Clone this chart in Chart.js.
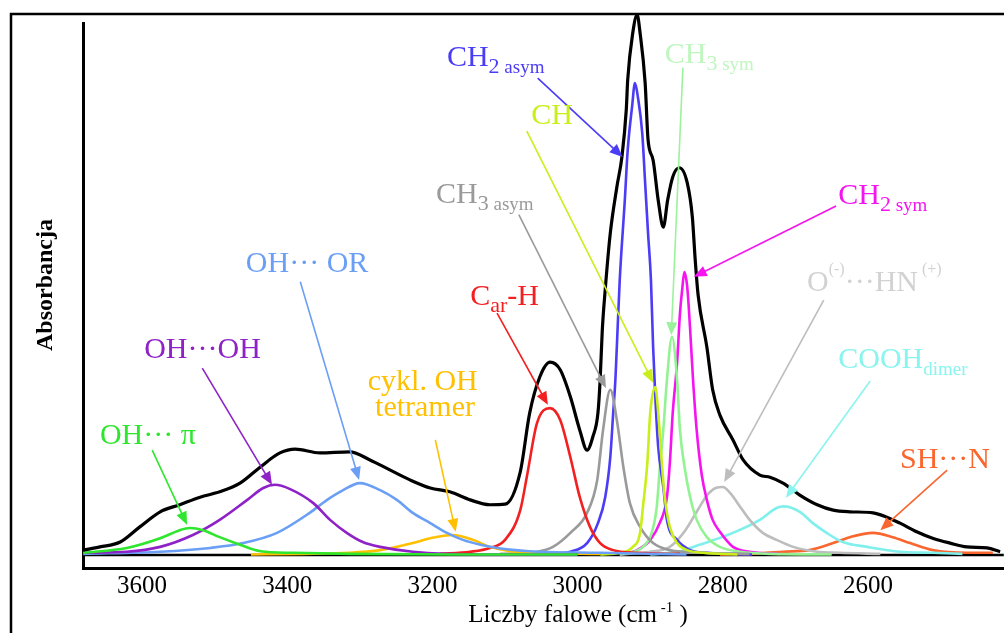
<!DOCTYPE html>
<html>
<head>
<meta charset="utf-8">
<script src="https://cdn.jsdelivr.net/npm/chart.js@4.4.1/dist/chart.umd.min.js"></script>
<style>
  html, body { margin: 0; padding: 0; background: #fff; }
</style>
</head>
<body>
<canvas id="spectrum" width="1004" height="633"></canvas>
<script>
// Wavenumber (cm-1) vs absorbance, scaled so the strongest band = 100
const waveTicks = [3600, 3400, 3200, 3000, 2800, 2600];

const total = [[3681,0.9],[3658,1.5],[3630,2.4],[3603,5.2],[3575,8.0],[3548,9.3],[3520,10.7],[3493,11.7],[3465,13.3],[3437,16.3],[3410,18.9],[3389,19.6],[3355,18.9],[3314,19.1],[3286,17.6],[3258,15.7],[3231,13.9],[3203,12.4],[3176,11.7],[3148,10.2],[3121,9.3],[3100,9.4],[3079,15.4],[3066,26.3],[3052,33.0],[3038,35.7],[3024,34.3],[3010,29.3],[2997,23.1],[2987,19.4],[2979,21.9],[2972,26.3],[2969,32.4],[2966,41.7],[2962,49.1],[2955,59.6],[2946,68.1],[2939,73.7],[2933,82.4],[2931,88.0],[2924,96.7],[2918,100],[2914,96.7],[2907,87.4],[2903,76.9],[2896,73.1],[2889,65.7],[2882,60.7],[2876,65.7],[2869,70.0],[2860,71.7],[2849,68.9],[2842,62.6],[2838,54.6],[2834,48.1],[2822,38.5],[2814,30.6],[2804,25.9],[2786,21.3],[2772,17.6],[2749,14.8],[2735,14.4],[2717,13.3],[2694,11.1],[2670,9.3],[2648,8.3],[2625,8.0],[2593,7.8],[2574,7.0],[2556,5.9],[2533,4.3],[2511,3.1],[2487,2.2],[2464,1.5],[2436,1.3],[2418,0.6]];

const ohPi = [[3681,0.4],[3621,1.3],[3575,3.1],[3548,4.6],[3534,5.0],[3516,4.6],[3493,3.3],[3465,1.9],[3437,0.7],[3392,0.4],[3314,0.2],[3176,0.1],[3000,0.1]];
const ohOh = [[3681,0.4],[3621,0.6],[3575,1.5],[3530,3.7],[3493,6.5],[3455,10.2],[3433,12.4],[3417,13.0],[3396,12.2],[3364,9.6],[3341,6.5],[3318,4.1],[3296,2.4],[3272,1.5],[3227,0.6],[3134,0.1],[3000,0.1]];
const ohOr = [[3681,0.2],[3575,0.6],[3506,1.3],[3461,2.2],[3414,4.1],[3369,7.8],[3345,10.2],[3323,12.0],[3300,13.3],[3272,12.0],[3249,10.2],[3227,7.8],[3203,5.9],[3180,4.1],[3158,2.8],[3134,1.9],[3111,1.3],[3066,0.7],[2969,0.4],[2850,0.1]];
const tetramer = [[3450,0.1],[3382,0.2],[3314,0.4],[3272,0.9],[3227,2.2],[3203,3.1],[3172,3.7],[3144,2.8],[3121,1.5],[3093,0.7],[3052,0.4],[2969,0.2]];
const carH = [[3190,0.2],[3148,0.6],[3121,1.3],[3100,2.8],[3079,8.3],[3069,15.2],[3056,24.4],[3038,27.2],[3024,25.0],[3010,18.1],[2997,10.7],[2983,5.2],[2969,2.2],[2951,0.9],[2918,0.4],[2859,0.2]];
const ch3Asym = [[3107,0.2],[3056,0.6],[3034,1.5],[3010,4.1],[2987,7.8],[2973,13.9],[2965,23.1],[2955,30.6],[2946,25.0],[2937,16.3],[2928,9.6],[2914,5.2],[2896,2.2],[2873,0.9],[2827,0.4],[2763,0.2]];
const ch2Asym = [[3034,0.2],[3010,0.6],[2987,2.2],[2972,5.9],[2962,10.7],[2955,18.1],[2951,26.3],[2948,32.4],[2946,38.5],[2942,50.9],[2935,65.7],[2931,75.0],[2925,83.0],[2921,87.4],[2917,84.8],[2911,78.1],[2907,68.9],[2903,59.6],[2899,50.9],[2896,38.5],[2893,29.3],[2889,20.0],[2882,12.6],[2877,6.5],[2863,2.8],[2845,0.9],[2822,0.4],[2760,0.1]];
const chBand = [[2969,0.1],[2942,0.4],[2924,1.5],[2914,4.1],[2910,8.9],[2904,17.0],[2900,26.3],[2893,31.1],[2889,26.3],[2884,17.0],[2880,10.7],[2873,5.2],[2863,2.2],[2849,0.9],[2827,0.4],[2780,0.1]];
const ch3Sym = [[2942,0.1],[2928,0.4],[2910,1.5],[2898,4.1],[2891,8.9],[2887,15.7],[2882,23.1],[2877,32.4],[2870,40.4],[2863,32.4],[2859,23.1],[2852,15.7],[2845,10.7],[2836,6.5],[2822,3.3],[2804,1.5],[2776,0.6],[2735,0.2],[2650,0.1]];
const ch2Sym = [[2942,0.1],[2918,0.9],[2900,2.8],[2887,5.9],[2877,10.7],[2873,17.0],[2869,26.3],[2863,35.6],[2859,44.8],[2856,49.1],[2853,52.4],[2849,49.6],[2845,41.7],[2841,32.4],[2836,23.1],[2829,14.8],[2822,10.2],[2814,6.5],[2804,4.3],[2786,1.5],[2763,0.6],[2721,0.2]];
const ohHn = [[2942,0.1],[2900,0.6],[2873,1.5],[2852,4.5],[2836,8.0],[2822,11.0],[2810,12.4],[2800,12.6],[2790,11.5],[2776,8.9],[2763,6.5],[2745,4.1],[2726,2.8],[2703,1.5],[2670,0.6],[2639,0.4],[2583,0.2]];
const coohDimer = [[2900,0.1],[2859,0.7],[2832,1.9],[2786,4.1],[2749,6.5],[2726,8.7],[2716,9.0],[2694,8.0],[2676,5.9],[2657,4.1],[2635,2.4],[2601,1.5],[2556,0.6],[2511,0.4],[2470,0.2]];
const shN = [[2804,0.1],[2749,0.3],[2717,0.6],[2681,0.9],[2648,2.2],[2625,3.3],[2593,4.1],[2566,3.3],[2542,2.2],[2511,0.9],[2464,0.4],[2428,0.4]];
const baseline = [[3681,0],[2413,0]];

const SERIF = '"Liberation Serif", "Times New Roman", serif';

// Band labels: text parts [text, kind] (0 normal, 1 subscript, 2 small subscript, 3 superscript),
// anchor / arrow ends given as [wavenumber, absorbance]
const notes = [
  { parts: [['OH\u00b7\u00b7\u00b7 \u03c0', 0]], at: [3658, 20.6], from: [3586, 19.4], to: [3538, 5.6], color: '#2ee62e' },
  { parts: [['OH\u00b7\u00b7\u00b7OH', 0]], at: [3597, 36.5], from: [3517, 34.6], to: [3421, 13.0], color: '#8e22c6' },
  { parts: [['OH\u00b7\u00b7\u00b7 OR', 0]], at: [3457, 52.4], from: [3382, 50.6], to: [3301, 13.9], color: '#6b9ff5' },
  { parts: [['cykl. OH', 0]], at: [3289, 30.6], from: [3196, 21.3], to: [3168, 4.3], color: '#ffc000' },
  { parts: [['tetramer', 0]], at: [3279, 25.7], color: '#ffc000' },
  { parts: [['C', 0], ['ar', 1], ['-H', 0]], at: [3148, 46.3], from: [3111, 44.8], to: [3041, 27.8], color: '#f22020' },
  { parts: [['CH', 0], ['3', 1], [' asym', 2]], at: [3195, 65.2], from: [3081, 63.0], to: [2961, 30.9], color: '#9a9a9a' },
  { parts: [['CH', 0], ['2', 1], [' asym', 2]], at: [3180, 90.6], from: [3055, 88.3], to: [2938, 73.7], color: '#4b3cf5' },
  { parts: [['CH', 0]], at: [3064, 79.8], from: [3070, 78.5], to: [2896, 31.9], color: '#c8ef1a' },
  { parts: [['CH', 0], ['3', 1], [' sym', 2]], at: [2880, 91.1], from: [2855, 90.2], to: [2871, 40.7], color: '#c0f6c0', arrowColor: '#9cf29c' },
  { parts: [['CH', 0], ['2', 1], [' sym', 2]], at: [2641, 65.0], from: [2644, 64.6], to: [2840, 51.5], color: '#f514f0' },
  { parts: [['O', 0], ['(-)', 3], ['\u00b7\u00b7\u00b7', 0], ['HN', 0], [' (+)', 3]], at: [2684, 48.9], from: [2661, 47.2], to: [2798, 13.5], color: '#d2d2d2', arrowColor: '#bdbdbd' },
  { parts: [['COOH', 0], ['dimer', 2]], at: [2641, 34.6], from: [2597, 32.2], to: [2713, 10.6], color: '#8af4ee' },
  { parts: [['SH\u00b7\u00b7\u00b7N', 0]], at: [2556, 16.1], from: [2491, 15.7], to: [2583, 4.6], color: '#f9662f' }
];

const partStyle = [
  { size: 30, dy: 0 },
  { size: 22, dy: 7 },
  { size: 19, dy: 7 },
  { size: 16, dy: -17 }
];

function toPoints(pairs) {
  return pairs.map(([x, y]) => ({ x, y }));
}

function series(label, pairs, color, width) {
  return {
    label,
    data: toPoints(pairs),
    borderColor: color,
    borderWidth: width,
    pointRadius: 0,
    fill: false,
    cubicInterpolationMode: 'monotone',
    clip: false,
  };
}

function drawArrow(ctx, x1, y1, x2, y2, color) {
  const ang = Math.atan2(y2 - y1, x2 - x1);
  const len = 13, half = 5.5;
  ctx.strokeStyle = color;
  ctx.fillStyle = color;
  ctx.lineWidth = 1.6;
  ctx.beginPath();
  ctx.moveTo(x1, y1);
  ctx.lineTo(x2 - Math.cos(ang) * len * 0.8, y2 - Math.sin(ang) * len * 0.8);
  ctx.stroke();
  ctx.beginPath();
  ctx.moveTo(x2, y2);
  ctx.lineTo(x2 - Math.cos(ang) * len - Math.sin(ang) * half, y2 - Math.sin(ang) * len + Math.cos(ang) * half);
  ctx.lineTo(x2 - Math.cos(ang) * len + Math.sin(ang) * half, y2 - Math.sin(ang) * len - Math.cos(ang) * half);
  ctx.closePath();
  ctx.fill();
}

const decor = {
  id: 'decor',
  beforeDraw(chart) {
    const { ctx, width, height } = chart;
    ctx.save();
    ctx.fillStyle = '#fff';
    ctx.fillRect(0, 0, width, height);
    ctx.strokeStyle = '#000';
    ctx.lineWidth = 2.5;
    ctx.strokeRect(11, 14, width + 20, height + 20);
    ctx.restore();
  },
  afterDraw(chart) {
    const { ctx, scales: { x, y } } = chart;
    ctx.save();

    // y axis title
    ctx.fillStyle = '#000';
    ctx.font = `bold 24px ${SERIF}`;
    ctx.textAlign = 'center';
    ctx.textBaseline = 'middle';
    ctx.translate(46, 285);
    ctx.rotate(-Math.PI / 2);
    ctx.fillText('Absorbancja', 0, 0);
    ctx.setTransform(1, 0, 0, 1, 0, 0);

    // x axis title with superscript unit
    ctx.textAlign = 'left';
    ctx.textBaseline = 'alphabetic';
    const main = 'Liczby falowe (cm', sup = ' -1', tail = ' )';
    ctx.font = `25px ${SERIF}`;
    const wMain = ctx.measureText(main).width, wTail = ctx.measureText(tail).width;
    ctx.font = `15px ${SERIF}`;
    const wSup = ctx.measureText(sup).width;
    let tx = 578 - (wMain + wSup + wTail) / 2;
    const ty = 622;
    ctx.font = `25px ${SERIF}`;
    ctx.fillText(main, tx, ty);
    tx += wMain;
    ctx.font = `15px ${SERIF}`;
    ctx.fillText(sup, tx, ty - 10);
    tx += wSup;
    ctx.font = `25px ${SERIF}`;
    ctx.fillText(tail, tx, ty);

    // band labels and arrows
    for (const n of notes) {
      let px = x.getPixelForValue(n.at[0]);
      const py = y.getPixelForValue(n.at[1]);
      ctx.fillStyle = n.color;
      for (const [text, kind] of n.parts) {
        const st = partStyle[kind];
        ctx.font = `${st.size}px ${SERIF}`;
        ctx.fillText(text, px, py + st.dy);
        px += ctx.measureText(text).width;
      }
      if (n.from) {
        drawArrow(ctx,
          x.getPixelForValue(n.from[0]), y.getPixelForValue(n.from[1]),
          x.getPixelForValue(n.to[0]), y.getPixelForValue(n.to[1]),
          n.arrowColor || n.color);
      }
    }
    ctx.restore();
  }
};

new Chart(document.getElementById('spectrum'), {
  type: 'line',
  data: {
    datasets: [
      series('total', total, '#000000', 3.2),
      series('OH···π', ohPi, '#2ee62e', 2.6),
      series('OH···OH', ohOh, '#8e22c6', 2.6),
      series('OH···OR', ohOr, '#6b9ff5', 2.6),
      series('cykl. OH tetramer', tetramer, '#ffc000', 2.6),
      series('Car-H', carH, '#f22020', 2.6),
      series('CH', chBand, '#c8ef1a', 2.6),
      series('CH3 asym', ch3Asym, '#9a9a9a', 2.6),
      series('CH2 asym', ch2Asym, '#4b3cf5', 2.6),
      series('CH3 sym', ch3Sym, '#93f393', 2.6),
      series('CH2 sym', ch2Sym, '#f514f0', 2.6),
      series('O···HN', ohHn, '#bdbdbd', 2.6),
      series('COOH dimer', coohDimer, '#80f0ec', 2.6),
      series('SH···N', shN, '#f9662f', 2.6),
      series('baseline', baseline, '#000000', 2.6)
    ]
  },
  options: {
    responsive: false,
    animation: false,
    devicePixelRatio: 1,
    layout: { padding: { top: 23, left: 0, right: 0, bottom: 0 } },
    scales: {
      x: {
        type: 'linear',
        reverse: true,
        min: 2412.7,
        max: 3681.3,
        afterBuildTicks: s => { s.ticks = waveTicks.map(v => ({ value: v })); },
        afterFit: s => { s.height = 65; },
        grid: { display: false, drawTicks: false },
        border: { display: true, color: '#000', width: 3 },
        ticks: {
          color: '#000',
          font: { family: SERIF, size: 25 },
          padding: 3,
          maxRotation: 0,
          autoSkip: false,
          callback: v => String(v)
        }
      },
      y: {
        min: -2.41,
        max: 98.5,
        afterFit: s => { s.width = 83; },
        ticks: { display: false },
        grid: { display: false, drawTicks: false },
        border: { display: true, color: '#000', width: 3 }
      }
    },
    plugins: {
      legend: { display: false },
      tooltip: { enabled: false }
    }
  },
  plugins: [decor]
});
</script>
</body>
</html>
